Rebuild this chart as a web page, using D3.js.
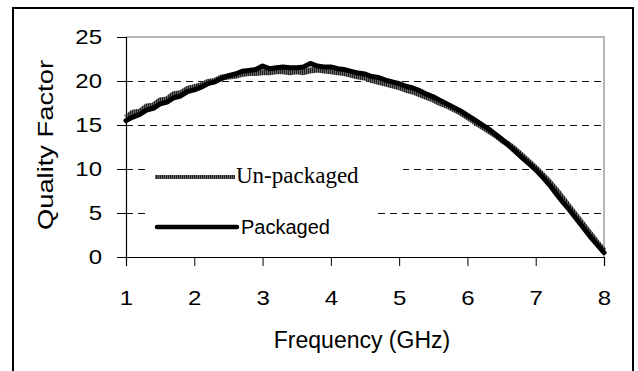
<!DOCTYPE html>
<html><head><meta charset="utf-8">
<script src="https://cdn.jsdelivr.net/npm/d3@7"></script>
<style>html,body{margin:0;padding:0;background:#fff;}svg{display:block;}</style>
</head><body>
<svg id="chart" width="638" height="371"></svg>
<script>
const freq = [1.0,1.1,1.2,1.3,1.4,1.5,1.6,1.7,1.8,1.9,
  2.0,2.1,2.2,2.3,2.4,2.5,2.6,2.7,2.8,2.9,
  3.0,3.1,3.2,3.3,3.4,3.5,3.6,3.7,3.8,3.9,
  4.0,4.1,4.2,4.3,4.4,4.5,4.6,4.7,4.8,4.9,
  5.0,5.1,5.2,5.3,5.4,5.5,5.6,5.7,5.8,5.9,
  6.0,6.1,6.2,6.3,6.4,6.5,6.6,6.7,6.8,6.9,
  7.0,7.1,7.2,7.3,7.4,7.5,7.6,7.7,7.8,7.9,8.0];
const packaged = [15.5,15.9,16.2,16.7,16.9,17.4,17.6,18.1,18.3,18.8,
  19.0,19.3,19.7,19.9,20.3,20.6,20.8,21.1,21.2,21.3,
  21.7,21.4,21.5,21.6,21.5,21.5,21.6,22.0,21.7,21.6,
  21.6,21.4,21.3,21.1,20.9,20.8,20.5,20.4,20.1,19.9,
  19.7,19.4,19.2,18.9,18.5,18.2,17.8,17.4,17.0,16.6,
  16.1,15.6,15.1,14.6,14.0,13.4,12.7,12.0,11.3,10.6,
  9.9,9.1,8.2,7.2,6.2,5.3,4.3,3.3,2.3,1.4,0.5];
const unpackaged = [15.8,16.4,16.5,17.1,17.2,17.8,17.9,18.5,18.6,19.1,
  19.3,19.5,19.9,20.0,20.4,20.5,20.6,20.8,20.9,20.9,
  21.0,21.0,21.1,21.1,21.0,21.1,21.0,21.2,21.3,21.2,
  21.1,21.0,20.9,20.7,20.5,20.4,20.1,19.9,19.7,19.5,
  19.3,19.0,18.8,18.5,18.2,17.9,17.5,17.2,16.8,16.4,
  15.9,15.4,14.9,14.4,13.9,13.3,12.8,12.2,11.5,10.8,
  10.1,9.3,8.5,7.6,6.6,5.6,4.6,3.6,2.6,1.6,0.7];
const xTicks = [1,2,3,4,5,6,7,8];
const yTicks = [0,5,10,15,20,25];
const gridValues = [5,10,15,20];
const seriesNames = ["Un-packaged","Packaged"];
const xTitle = "Frequency (GHz)";
const yTitle = "Quality Factor";

const svg = d3.select("#chart");
const L = 126, R = 604, T = 37, B = 257;
const x = d3.scaleLinear().domain([1,8]).range([L,R]);
const y = d3.scaleLinear().domain([0,25]).range([B,T]);
const crisp = v => Math.round(v) + 0.5;

// hatch pattern
const defs = svg.append("defs");
const pat = defs.append("pattern").attr("id","hatch").attr("patternUnits","userSpaceOnUse")
  .attr("width",2).attr("height",10);
pat.append("rect").attr("width",2).attr("height",10).attr("fill","#6a6a6a");
pat.append("rect").attr("width",1).attr("height",10).attr("fill","#222");

// outer frame
svg.append("rect").attr("x",13).attr("y",8).attr("width",620).attr("height",380)
  .attr("fill","none").attr("stroke","#000").attr("stroke-width",2);

// gridlines
svg.append("g").selectAll("line").data(gridValues).join("line")
  .attr("x1",L).attr("x2",R).attr("y1",d=>crisp(y(d))).attr("y2",d=>crisp(y(d)))
  .attr("stroke","#111").attr("stroke-width",1).attr("stroke-dasharray","7,5");

// plot frame top/right
svg.append("path").attr("d",`M${L},${T}H${R}V${B}`).attr("fill","none")
  .attr("stroke","#a0a0a0").attr("stroke-width",1.5);

// axes
const yAxis = d3.axisLeft(y).tickValues(yTicks).tickSize(9).tickFormat(d3.format("d"));
const gy = svg.append("g").attr("transform",`translate(${L},0)`).call(yAxis);
const xAxis = d3.axisBottom(x).tickValues(xTicks).tickSize(9).tickFormat(d3.format("d"));
const gx = svg.append("g").attr("transform",`translate(0,${B})`).call(xAxis);
[gx,gy].forEach(g=>{
  g.select(".domain").attr("stroke","#000").attr("stroke-width",1.2);
  g.selectAll(".tick line").attr("stroke","#000").attr("stroke-width",1);
  g.selectAll(".tick text").attr("font-family","Liberation Sans, Arial, sans-serif")
    .attr("font-size",20).attr("fill","#000");
});
gy.selectAll(".tick text").attr("x",0).attr("dy",null).attr("dominant-baseline","central")
  .attr("text-anchor","end")
  .attr("transform",d=>`translate(-24,0) scale(1.2,1)`);
gx.selectAll(".tick text").attr("y",0).attr("dy",null).attr("dominant-baseline","central")
  .attr("transform","translate(0,41) scale(1.2,1)");

// legend boxes
svg.append("rect").attr("x",149).attr("y",163).attr("width",254).attr("height",27).attr("fill","#fff");
svg.append("rect").attr("x",149).attr("y",205).attr("width",227).attr("height",35).attr("fill","#fff");

// series
const line = d3.line().x((d,i)=>x(freq[i])).y(d=>y(d));
svg.append("path").datum(unpackaged).attr("d",line).attr("fill","none")
  .attr("stroke","url(#hatch)").attr("stroke-width",6).attr("stroke-linejoin","round");
svg.append("path").datum(packaged).attr("d",line).attr("fill","none")
  .attr("stroke","#000").attr("stroke-width",5).attr("stroke-linejoin","round").attr("stroke-linecap","round");

// legend
svg.append("line").attr("x1",155).attr("x2",235).attr("y1",177).attr("y2",177)
  .attr("stroke","url(#hatch)").attr("stroke-width",4);
svg.append("text").attr("x",236).attr("y",183).text(seriesNames[0])
  .attr("font-family","Liberation Serif, Times New Roman, serif").attr("font-size",23).attr("fill","#000");
svg.append("line").attr("x1",157).attr("x2",237).attr("y1",227).attr("y2",227)
  .attr("stroke","#000").attr("stroke-width",4.5).attr("stroke-linecap","round");
svg.append("text").attr("x",241).attr("y",234).text(seriesNames[1])
  .attr("font-family","Liberation Sans, Arial, sans-serif").attr("font-size",20).attr("fill","#000");

// titles
svg.append("text").attr("x",362).attr("y",348).attr("text-anchor","middle").text(xTitle)
  .attr("font-family","Liberation Sans, Arial, sans-serif").attr("font-size",23).attr("fill","#000");
svg.append("text").attr("transform","translate(53,145) rotate(-90)").attr("text-anchor","middle")
  .attr("textLength",170).attr("lengthAdjust","spacingAndGlyphs").text(yTitle)
  .attr("font-family","Liberation Sans, Arial, sans-serif").attr("font-size",22).attr("fill","#000");
</script>
</body></html>
